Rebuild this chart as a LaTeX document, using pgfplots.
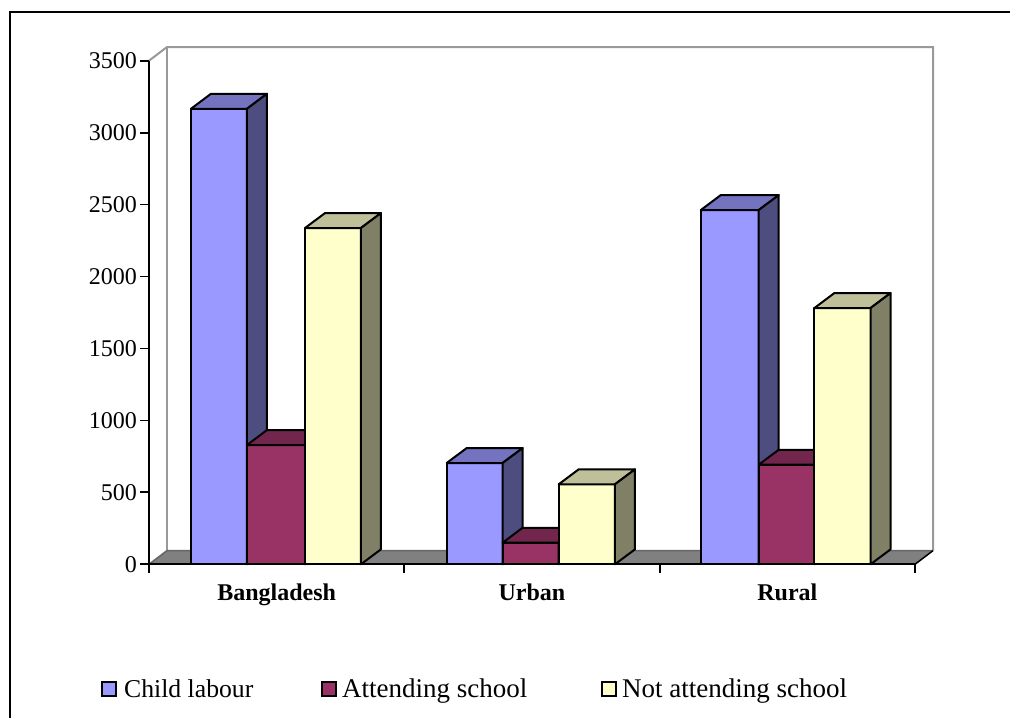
\documentclass[border=0pt]{standalone}
\usepackage{pgfplots}
\pgfplotsset{compat=1.18}
\usepackage{fontspec}
\setmainfont{Liberation Serif}
\definecolor{blueF}{HTML}{9999FF}\definecolor{blueT}{HTML}{7373BF}\definecolor{blueS}{HTML}{4D4D80}
\definecolor{redF}{HTML}{993366}\definecolor{redT}{HTML}{73264D}\definecolor{redS}{HTML}{4D1933}
\definecolor{yelF}{HTML}{FFFFCC}\definecolor{yelT}{HTML}{BFBF99}\definecolor{yelS}{HTML}{808066}
\newcommand{\threedbar}[4]{% left x, right x, value, colour prefix
  \pgfmathsetmacro\xc{#2+0.0783}\pgfmathsetmacro\xd{#1+0.0783}\pgfmathsetmacro\vb{#3+104}
  \edef\tmp{\noexpand\addplot[fill=#4F,draw=black,line width=2pt,line join=round,forget plot] coordinates {(#1,0)(#1,#3)(#2,#3)(#2,0)} -- cycle;
  \noexpand\addplot[fill=#4T,draw=black,line width=2pt,line join=round,forget plot] coordinates {(#1,#3)(\xd,\vb)(\xc,\vb)(#2,#3)} -- cycle;
  \noexpand\addplot[fill=#4S,draw=black,line width=2pt,line join=round,forget plot] coordinates {(#2,0)(#2,#3)(\xc,\vb)(\xc,104)} -- cycle;}\tmp}
\begin{document}
\begin{tikzpicture}
\useasboundingbox (-149pt,-153.7pt) rectangle (861pt,564.3pt);
\draw[line width=2.4pt,black] (-139pt,-153.7pt) -- (-139pt,552pt) -- (861pt,552pt);
\begin{axis}[
  scale only axis, width=766pt, height=503.6pt, at={(0pt,0pt)}, anchor=origin,
  xmin=0, xmax=3, ymin=0, ymax=3500, clip=false, axis on top,
  axis x line*=bottom, axis y line*=left, axis line style={line width=2pt,-},
  ytick={0,500,1000,1500,2000,2500,3000,3500},
  xtick={0,1,2,3}, xticklabels={},
  extra x ticks={0.5,1.5,2.5}, extra x tick labels={Bangladesh,Urban,Rural},
  extra x tick style={major tick length=0pt, xticklabel style={font=\fontsize{24}{28}\selectfont\bfseries, yshift=-16pt}},
  tick align=outside, major tick length=8.5pt, tick style={line width=1.8pt,black},
  tick label style={font=\fontsize{24}{28}\selectfont},
  yticklabel style={xshift=0pt},
  /pgf/number format/assume math mode=true, /pgf/number format/1000 sep={},
  legend image code/.code={\draw[#1] (0pt,-7pt) rectangle (14pt,7pt);},
  legend style={at={(-48pt,-125pt)}, anchor=west, draw=none, fill=none, font=\fontsize{27}{30}\selectfont,
    legend columns=3, inner sep=0pt,
    /tikz/every even column/.append style={column sep=0pt}},
  legend cell align=left,
]
% back wall
\addplot[draw=gray!80,line width=2pt,forget plot] coordinates {(0,3500)(0.0705,3595)(3.0705,3595)(3.0705,95)};
\addplot[draw=gray!80,line width=2pt,forget plot] coordinates {(0.0705,95)(0.0705,3595)};
% floor
\addplot[fill=gray,draw=none,forget plot] coordinates {(0,0)(0.0705,95)(3.0705,95)(3,0)} -- cycle;
\addplot[draw=gray!80!black,line width=1.6pt,forget plot] coordinates {(0,0)(0.0705,95)(3.0705,95)};
\addplot[draw=black,line width=1.5pt,forget plot] coordinates {(3,0)(3.0705,95)};
% bars
\threedbar{0.1645}{0.3838}{3166}{blue}
\threedbar{0.3838}{0.6110}{829}{red}
\threedbar{0.6110}{0.8300}{2337}{yel}
\threedbar{1.1660}{1.3850}{704}{blue}
\threedbar{1.3850}{1.6046}{150}{red}
\threedbar{1.6046}{1.8250}{556}{yel}
\threedbar{2.1610}{2.3880}{2462}{blue}
\threedbar{2.3880}{2.6060}{692}{red}
\threedbar{2.6060}{2.8260}{1781}{yel}
\addlegendimage{fill=blueF,draw=black,line width=2pt}\addlegendentry{\makebox[200pt][l]{\hspace{5pt}\fontsize{25.7}{30}\selectfont Child labour}}
\addlegendimage{fill=redF,draw=black,line width=2pt}\addlegendentry{\makebox[260pt][l]{\hspace{3pt}Attending school}}
\addlegendimage{fill=yelF,draw=black,line width=2pt}\addlegendentry{\makebox[240pt][l]{\hspace{3pt}Not attending school}}
\end{axis}
\end{tikzpicture}
\end{document}
